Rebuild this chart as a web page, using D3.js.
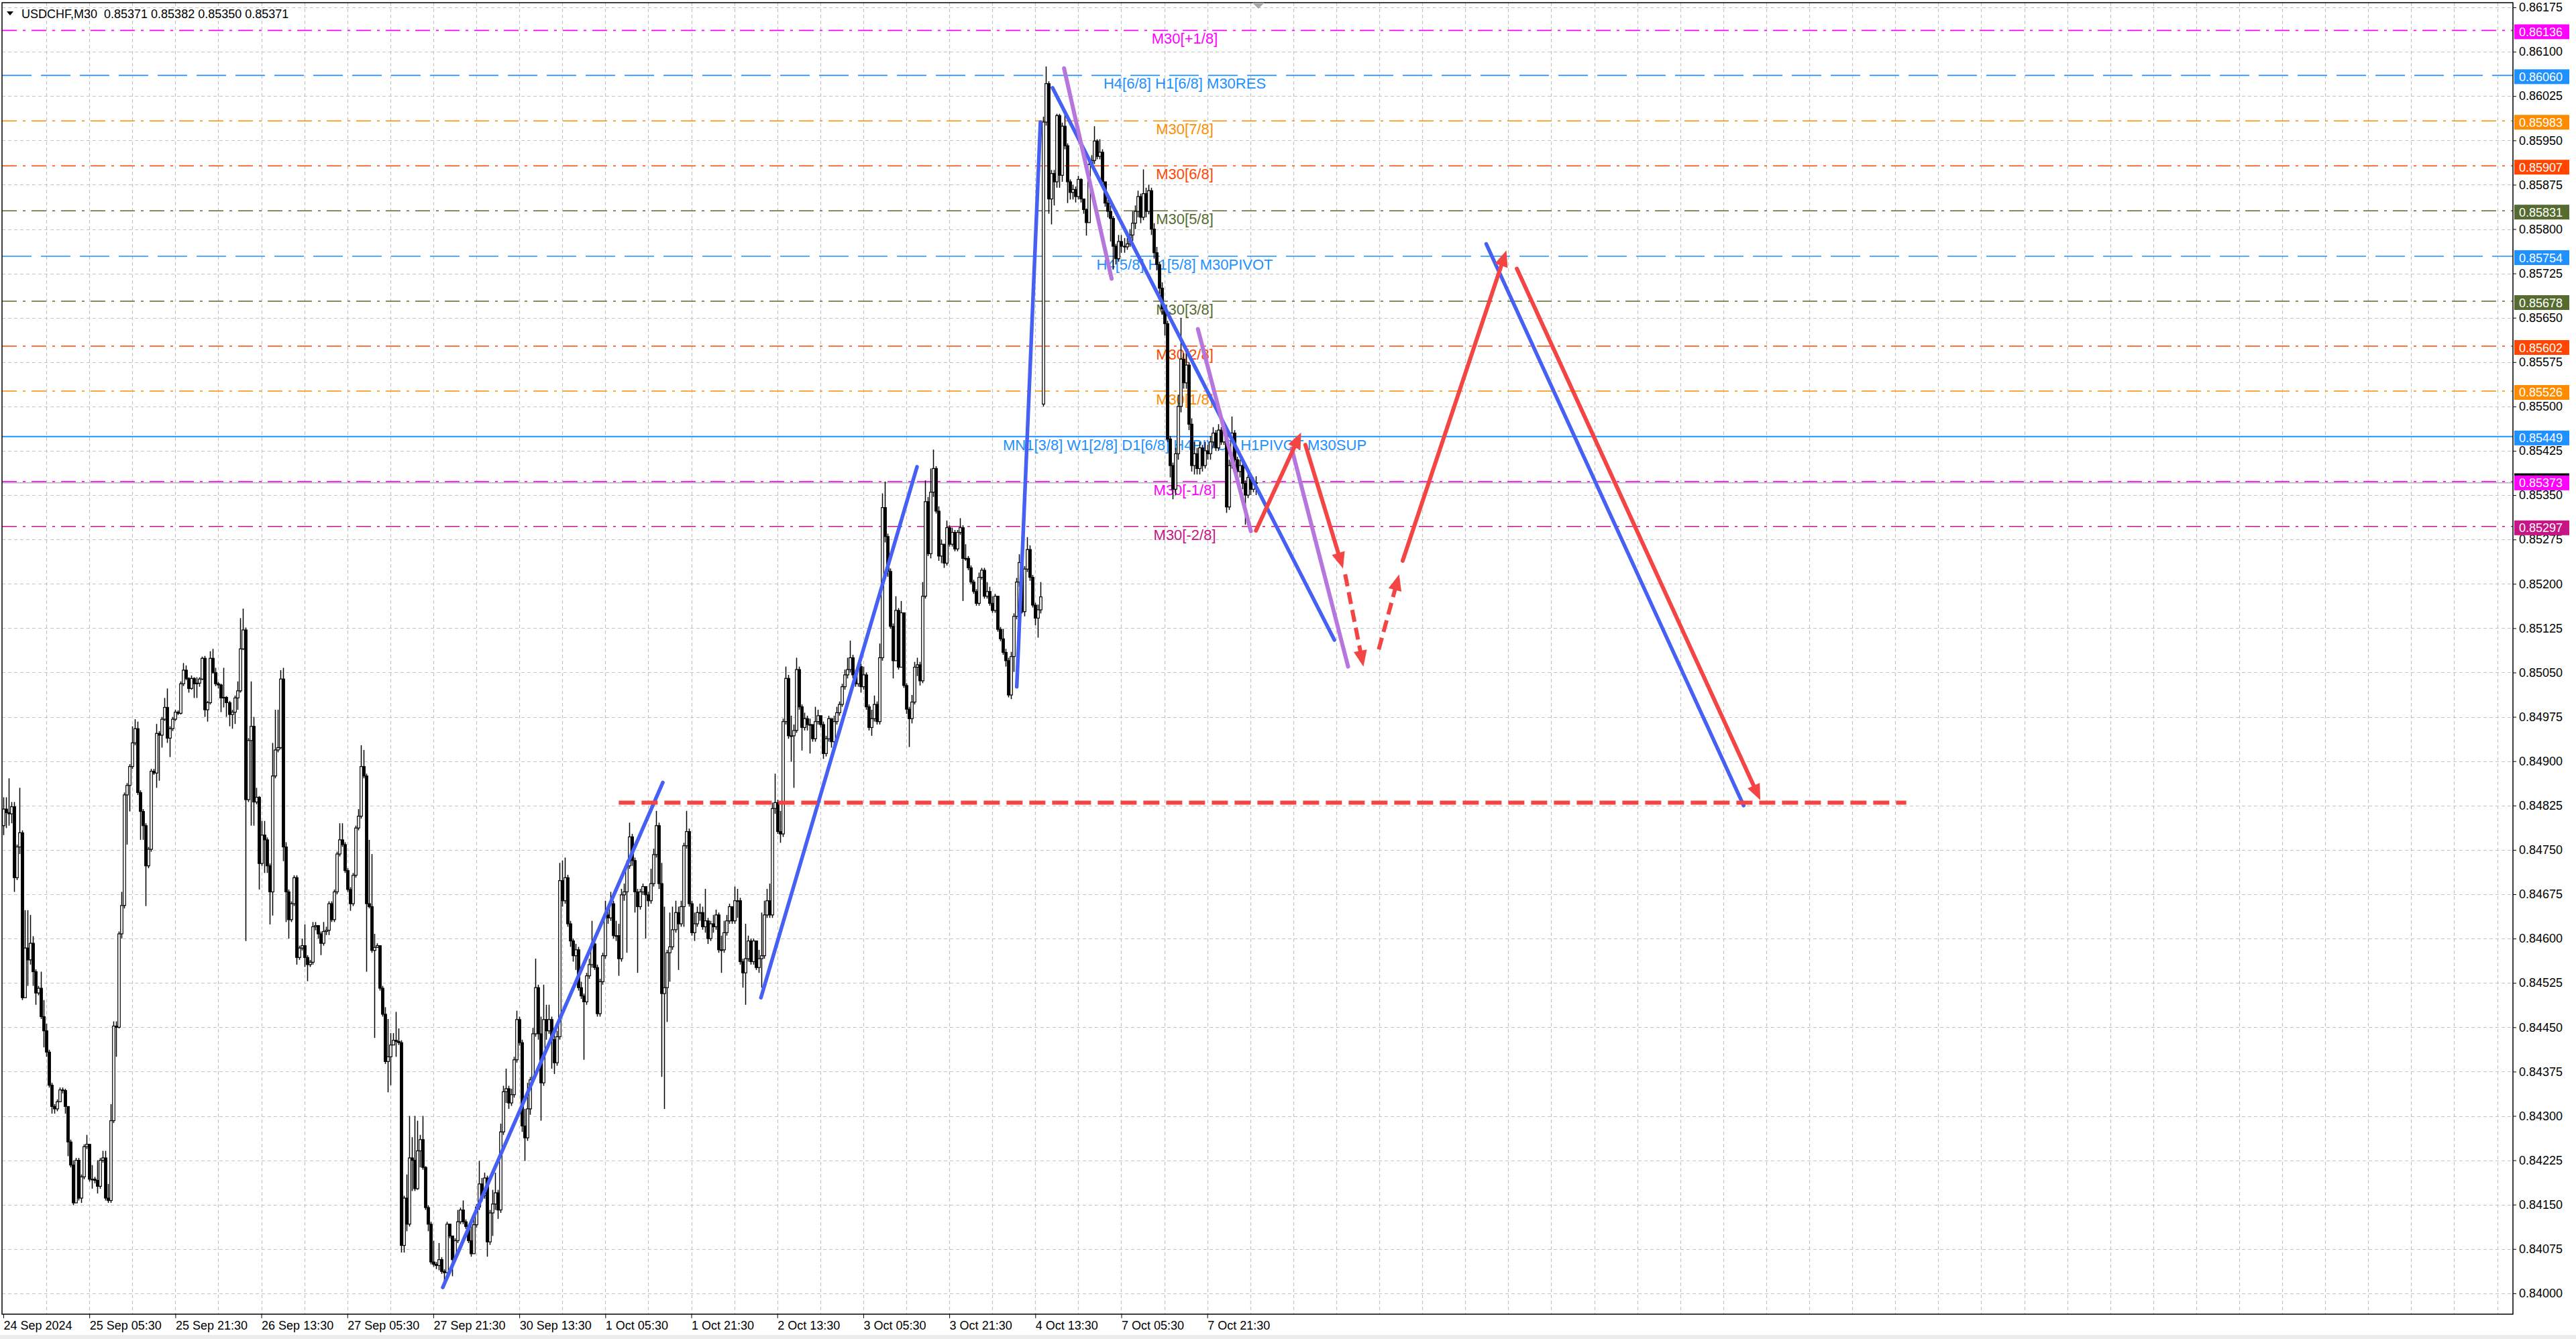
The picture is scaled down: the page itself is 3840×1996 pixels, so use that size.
<!DOCTYPE html>
<html><head><meta charset="utf-8">
<script src="https://cdn.jsdelivr.net/npm/d3@7/dist/d3.min.js"></script>
<style>
html,body{margin:0;padding:0;background:#fff;overflow:hidden;}
svg{display:block;}
text{font-family:"Liberation Sans",Arial,sans-serif;}
</style></head><body>
<svg id="c" width="3840" height="1996"></svg>
<script>
// ===== DATA (prices in 1/100000 units, M30 bars from 24 Sep 2024 13:30) =====
const symbolTitle = "USDCHF,M30";
const openPts = [
84791,84819,84813,84811,84823,84703,84755,84779,84500,84584,84564,84592,84544,84508,84516,84468,
84444,84408,84352,84316,84312,84324,84344,84343,84316,84256,84217,84153,84225,84161,84197,84248,
84252,84193,84193,84191,84181,84225,84229,84161,84157,84292,84452,84450,84608,84656,84843,84859,
84891,84931,84955,84847,84815,84791,84723,84751,84883,84880,84947,84944,84971,84991,84939,84955,
84971,84983,84981,85031,85054,85040,85023,85040,85031,85032,85039,85074,84987,84999,85074,85050,
85031,85029,85007,85008,84999,84979,84983,85007,85019,85090,85122,84835,84935,84959,84831,84839,
84727,84775,84767,84723,84679,84875,84919,84923,85039,84755,84679,84632,84659,84703,84568,84584,
84588,84568,84556,84560,84620,84622,84608,84592,84612,84614,84659,84632,84679,84743,84767,84759,
84715,84683,84659,84707,84787,84807,84891,84875,84659,84654,84580,84585,84588,84516,84472,84392,
84400,84420,84428,84426,84424,84081,84161,84117,84229,84225,84177,84241,84260,84213,84145,84117,
84053,84049,84047,84057,84037,84035,84117,84097,84057,84089,84121,84141,84121,84113,84089,84067,
84116,84146,84185,84165,84195,84087,84136,84151,84170,84141,84273,84341,84346,84322,84336,84395,
84463,84424,84283,84263,84312,84361,84439,84517,84439,84356,84463,84444,84463,84429,84390,84434,
84698,84664,84703,84625,84596,84571,84581,84517,84503,84493,84537,84556,84591,84551,84473,84527,
84571,84640,84635,84659,84605,84605,84566,84674,84679,84723,84772,84732,84679,84654,84679,84688,
84674,84664,84693,84742,84791,84693,84507,84517,84576,84586,84615,84644,84625,84654,84757,84781,
84659,84610,84625,84644,84644,84620,84630,84600,84625,84620,84640,84581,84581,84610,84630,84654,
84630,84664,84664,84561,84542,84566,84596,84561,84596,84551,84566,84571,84640,84664,84640,84820,
84830,84781,84777,84967,85040,84943,84943,84952,85055,84992,84957,84972,84962,84962,84938,84967,
84977,84962,84913,84938,84972,84933,84967,84982,84996,85026,85046,85055,85075,85046,85031,85060,
85026,85046,84992,84957,84972,84996,84967,85075,85329,85280,85221,85128,85070,85155,85059,85151,
85028,84988,84972,85000,85059,85063,85036,85179,85339,85251,85355,85395,85323,85247,85267,85235,
85295,85267,85287,85259,85287,85295,85243,85243,85227,85203,85187,85167,85211,85223,85179,85187,
85167,85155,85179,85123,85107,85084,85070,85012,85077,85145,85203,85236,85153,85225,85258,85211,
85164,85142,85156,85504,85981,86046,85851,85894,85880,85992,85891,85974,85941,85880,85862,85867,
85855,85884,85851,85833,85811,85909,85916,85949,85923,85930,85880,85844,85830,85818,85771,85750,
85779,85771,85770,85775,85790,85810,85830,85855,85820,85860,85830,85865,85800,85760,85740,85700,
85665,85640,85445,85400,85360,85420,85500,85580,85540,85570,85470,85400,85420,85395,85430,85400,
85425,85420,85440,85455,85430,85460,85440,85455,85330,85400,85455,85410,85390,85400,85370,85350,
85380,85360,85371];
const highPts = [
84839,84839,84871,84831,84831,84759,84855,84783,84648,84648,84640,84604,84548,84520,84544,84496,
84456,84412,84356,84320,84328,84348,84348,84346,84316,84260,84225,84229,84229,84201,84252,84268,
84252,84217,84197,84225,84229,84241,84241,84185,84320,84460,84460,84612,84679,84847,84863,84895,
84959,84971,84967,84851,84819,84795,84755,84887,84887,84963,84951,84975,85007,85023,84959,84975,
84987,84986,85035,85066,85062,85042,85045,85042,85042,85042,85077,85078,85002,85086,85090,85058,
85034,85031,85058,85010,85002,84987,85011,85035,85142,85158,85126,84939,85035,84975,84855,84841,
84799,84799,84771,84727,84931,84987,84987,85054,85058,84763,84683,84663,84707,84707,84588,84600,
84624,84572,84564,84628,84628,84622,84612,84628,84620,84663,84663,84683,84747,84795,84795,84763,
84719,84687,84711,84791,84819,84927,84919,84879,84767,84743,84608,84592,84588,84520,84484,84464,
84440,84440,84476,84448,84428,84165,84201,84300,84264,84300,84292,84268,84300,84215,84149,84121,
84089,84053,84085,84061,84041,84121,84117,84097,84093,84141,84145,84157,84125,84117,84116,84126,
84151,84224,84195,84204,84199,84141,84175,84204,84175,84287,84351,84380,84351,84346,84400,84478,
84468,84429,84312,84356,84366,84449,84566,84522,84468,84522,84488,84488,84468,84439,84444,84728,
84732,84737,84708,84630,84600,84591,84586,84527,84507,84542,84566,84630,84596,84556,84532,84576,
84664,84654,84679,84664,84630,84625,84684,84693,84732,84796,84777,84737,84684,84684,84693,84688,
84679,84718,84752,84816,84796,84728,84654,84581,84644,84654,84664,84654,84664,84762,84816,84786,
84664,84644,84654,84659,84654,84684,84635,84630,84640,84649,84644,84605,84630,84640,84659,84654,
84688,84684,84669,84566,84625,84605,84600,84600,84596,84581,84644,84664,84684,84693,84830,84879,
84835,84816,84972,85060,85046,84977,84962,85075,85060,84996,84982,84977,84972,84962,84992,84987,
84977,84967,84943,84977,84972,84977,84992,85001,85031,85055,85075,85104,85080,85055,85065,85065,
85060,85050,84996,84987,85011,85001,85099,85353,85373,85285,85226,85133,85179,85159,85171,85139,
85032,84992,85012,85068,85075,85068,85203,85375,85347,85395,85427,85399,85331,85275,85267,85307,
85299,85295,85291,85291,85311,85299,85267,85247,85231,85207,85191,85219,85227,85227,85203,85195,
85179,85183,85179,85127,85124,85090,85075,85085,85150,85210,85250,85245,85230,85279,85265,85215,
85168,85165,85203,85990,86075,86050,85900,85900,85995,85995,85980,85995,85945,85884,85875,85872,
85890,85886,85850,85835,85915,85925,85974,85952,85952,85935,85880,85850,85840,85822,85775,85790,
85790,85785,85785,85800,85830,85840,85865,85860,85901,85870,85875,85870,85810,85770,85745,85710,
85670,85645,85450,85405,85430,85520,85650,85590,85590,85575,85480,85440,85430,85440,85435,85440,
85435,85450,85465,85460,85470,85465,85470,85460,85410,85483,85460,85415,85410,85405,85375,85390,
85385,85380,85382];
const lowPts = [
84775,84787,84791,84795,84679,84699,84743,84496,84500,84520,84556,84520,84488,84504,84464,84416,
84400,84348,84304,84304,84308,84340,84338,84304,84232,84213,84149,84153,84157,84153,84193,84244,
84189,84177,84186,84169,84177,84221,84157,84153,84153,84288,84400,84448,84600,84651,84759,84815,
84887,84927,84843,84767,84767,84655,84719,84747,84877,84855,84867,84923,84968,84931,84907,84951,
84968,84978,84979,85027,85037,85016,85021,85007,85007,85026,85037,84975,84967,84996,85048,85027,
85023,84983,84991,84975,84959,84955,84963,84987,85016,85088,84596,84831,84791,84791,84827,84683,
84723,84711,84711,84624,84639,84871,84915,84920,84731,84628,84600,84628,84655,84556,84564,84580,
84552,84528,84552,84556,84614,84600,84572,84588,84606,84606,84628,84628,84675,84739,84755,84711,
84679,84647,84655,84703,84783,84803,84871,84544,84651,84576,84432,84584,84512,84468,84388,84340,
84352,84424,84400,84420,84069,84069,84105,84113,84173,84173,84175,84213,84209,84141,84105,84049,
84045,84041,84039,84033,84017,84033,84093,84029,84053,84085,84117,84117,84109,84085,84062,84067,
84111,84141,84155,84160,84062,84082,84097,84141,84126,84136,84268,84322,84312,84317,84331,84390,
84419,84273,84224,84258,84302,84356,84434,84429,84292,84351,84429,84439,84380,84371,84385,84429,
84654,84659,84620,84586,84561,84547,84512,84498,84395,84488,84532,84551,84547,84468,84468,84522,
84566,84625,84630,84600,84596,84537,84561,84664,84576,84718,84723,84644,84542,84649,84674,84600,
84654,84659,84688,84737,84684,84366,84312,84459,84527,84581,84610,84547,84620,84620,84752,84654,
84605,84596,84620,84630,84615,84610,84591,84596,84610,84615,84576,84542,84576,84605,84625,84625,
84625,84635,84556,84517,84488,84561,84556,84556,84547,84542,84517,84566,84635,84635,84635,84811,
84777,84762,84772,84962,84938,84899,84855,84948,84987,84918,84952,84952,84913,84933,84933,84962,
84957,84904,84908,84933,84923,84928,84962,84977,84992,85021,85040,85050,85040,85026,85026,85016,
85021,84987,84952,84943,84967,84962,84962,85070,85270,85212,85124,85040,85071,85055,85059,85024,
84980,84924,84964,84996,85044,85028,85032,85175,85247,85243,85347,85319,85239,85235,85227,85231,
85263,85263,85255,85255,85283,85171,85239,85223,85199,85183,85163,85163,85207,85175,85175,85163,
85151,85151,85119,85103,85080,85060,85008,85005,85051,85140,85195,85150,85145,85220,85205,85160,
85130,85109,85150,85500,85975,85826,85808,85840,85870,85870,85880,85935,85844,85850,85850,85845,
85850,85845,85826,85789,85830,85905,85910,85918,85918,85875,85838,85820,85779,85732,85740,85745,
85760,85760,85765,85770,85780,85800,85820,85810,85815,85820,85825,85790,85750,85730,85690,85655,
85620,85440,85380,85343,85350,85410,85490,85530,85530,85460,85390,85385,85385,85385,85390,85395,
85410,85410,85430,85425,85425,85435,85435,85320,85325,85395,85400,85380,85380,85360,85300,85345,
85350,85355,85350];
const closePts = [
84819,84813,84811,84823,84703,84755,84779,84500,84584,84564,84592,84544,84508,84516,84468,84444,
84408,84352,84316,84312,84324,84344,84343,84316,84256,84217,84153,84225,84161,84197,84248,84252,
84193,84193,84191,84181,84225,84229,84161,84157,84292,84452,84450,84608,84656,84843,84859,84891,
84931,84955,84847,84815,84791,84723,84751,84883,84880,84947,84944,84971,84991,84939,84955,84971,
84983,84981,85031,85054,85040,85023,85040,85031,85032,85039,85074,84987,84999,85074,85050,85031,
85029,85007,85008,84999,84979,84983,85007,85019,85090,85122,84835,84935,84959,84831,84839,84727,
84775,84767,84723,84679,84875,84919,84923,85039,84755,84679,84632,84659,84703,84568,84584,84588,
84568,84556,84560,84620,84622,84608,84592,84612,84614,84659,84632,84679,84743,84767,84759,84715,
84683,84659,84707,84787,84807,84891,84875,84659,84654,84580,84585,84588,84516,84472,84392,84400,
84420,84428,84426,84424,84081,84161,84117,84229,84225,84177,84241,84260,84213,84145,84117,84053,
84049,84047,84057,84037,84035,84117,84097,84057,84089,84121,84141,84121,84113,84089,84067,84116,
84146,84185,84165,84195,84087,84136,84151,84170,84141,84273,84341,84346,84322,84336,84395,84463,
84424,84283,84263,84312,84361,84439,84517,84439,84356,84463,84444,84463,84429,84390,84434,84698,
84664,84703,84625,84596,84571,84581,84517,84503,84493,84537,84556,84591,84551,84473,84527,84571,
84640,84635,84659,84605,84605,84566,84674,84679,84723,84772,84732,84679,84654,84679,84688,84674,
84664,84693,84742,84791,84693,84507,84517,84576,84586,84615,84644,84625,84654,84757,84781,84659,
84610,84625,84644,84644,84620,84630,84600,84625,84620,84640,84581,84581,84610,84630,84654,84630,
84664,84664,84561,84542,84566,84596,84561,84596,84551,84566,84571,84640,84664,84640,84820,84830,
84781,84777,84967,85040,84943,84943,84952,85055,84992,84957,84972,84962,84962,84938,84967,84977,
84962,84913,84938,84972,84933,84967,84982,84996,85026,85046,85055,85075,85046,85031,85060,85026,
85046,84992,84957,84972,84996,84967,85075,85329,85280,85221,85128,85070,85155,85059,85151,85028,
84988,84972,85000,85059,85063,85036,85179,85339,85251,85355,85395,85323,85247,85267,85235,85295,
85267,85287,85259,85287,85295,85243,85243,85227,85203,85187,85167,85211,85223,85179,85187,85167,
85155,85179,85123,85107,85084,85070,85012,85077,85145,85203,85236,85153,85225,85258,85211,85164,
85142,85156,85178,85981,86046,85851,85894,85880,85992,85891,85974,85941,85880,85862,85867,85855,
85884,85851,85833,85811,85909,85916,85949,85923,85930,85880,85844,85830,85818,85771,85750,85779,
85771,85770,85775,85790,85810,85830,85855,85820,85860,85830,85865,85800,85760,85740,85700,85665,
85640,85445,85400,85360,85420,85500,85580,85540,85570,85470,85400,85420,85395,85430,85400,85425,
85420,85440,85455,85430,85460,85440,85455,85330,85400,85455,85410,85390,85400,85370,85350,85380,
85360,85371,85371];

// Murrey-math levels
const levelPrices = [0.86136,0.86060,0.85983,0.85907,0.85831,0.85754,0.85678,0.85602,0.85526,0.85449,0.85373,0.85297];
const levelNames = ["M30[+1/8]","H4[6/8] H1[6/8] M30RES","M30[7/8]","M30[6/8]","M30[5/8]","H4[5/8] H1[5/8] M30PIVOT",
  "M30[3/8]","M30[2/8]","M30[1/8]","MN1[3/8] W1[2/8] D1[6/8] H4PIVOT H1PIVOT M30SUP","M30[-1/8]","M30[-2/8]"];
const bidPrice = 0.85371;

// drawn objects: [barIndex, price] pairs
const blueLines = [
  [[163.5,0.84010],[245.4,0.84864]],
  [[281.9,0.84500],[340.0,0.85398]],
  [[377.1,0.85026],[385.9,0.85981]],
  [[390.4,0.86039],[495.3,0.85105]],
  [[551.8,0.85775],[647.6,0.84825]]];
const purpleLines = [
  [[394.7,0.86072],[412.4,0.85716]],
  [[444.5,0.85631],[464.2,0.85289]],
  [[479.4,0.85429],[500.4,0.85060]]];
const redArrows = [
  [[466.1,0.85290],[482.9,0.85456]],
  [[484.5,0.85435],[498.5,0.85226]],
  [[520.7,0.85239],[559.3,0.85764]],
  [[563.2,0.85733],[653.8,0.84834]]];
const redDashedArrows = [
  [[499.3,0.85216],[506.1,0.85060]],
  [[511.8,0.85089],[519.4,0.85216]]];
const targetLine = [[229,0.84830],[708.1,0.84830]];

// axis tick labels
const priceTicks = [0.84000,0.84075,0.84150,0.84225,0.84300,0.84375,0.84450,0.84525,0.84600,0.84675,0.84750,0.84825,
  0.84900,0.84975,0.85050,0.85125,0.85200,0.85275,0.85350,0.85425,0.85500,0.85575,0.85650,0.85725,0.85800,0.85875,
  0.85950,0.86025,0.86100,0.86175];
const timeTickBars = [0,32,64,96,128,160,192,224,256,288,320,352,384,416,448];
const timeLabels = ["24 Sep 2024","25 Sep 05:30","25 Sep 21:30","26 Sep 13:30","27 Sep 05:30","27 Sep 21:30",
  "30 Sep 13:30","1 Oct 05:30","1 Oct 21:30","2 Oct 13:30","3 Oct 05:30","3 Oct 21:30","4 Oct 13:30","7 Oct 05:30","7 Oct 21:30"];

// ===== STYLE =====
const levelColors = ["#FF00FF","#1E90FF","#FF8C00","#FF4500","#556B2F","#1E90FF","#556B2F","#FF4500","#FF8C00","#1E90FF","#FF00FF","#C71585"];
const levelDash = ["22,9,4,9","44,14","22,9,4,9","22,9,4,9","22,9,4,9","44,14","22,9,4,9","22,9,4,9","22,9,4,9",null,"22,9,4,9","22,9,4,9"];
const BLUE="#4560F2", PURPLE="#B676DE", RED="#F44545";

// ===== LAYOUT =====
const W=3840,H=1996;
const FL=3, FR=3746, FT=4, FB=1959;
const LABEL_BAR = 439.6;
const x = d3.scaleLinear().domain([0,934]).range([5, 5+934*4.006]);
const y = d3.scaleLinear().domain([0.84000,0.86175]).range([1927.9, 11]);

const bars = closePts.map((c,i)=>({i, o:openPts[i]/1e5, h:highPts[i]/1e5, l:lowPts[i]/1e5, c:c/1e5}));

const svg = d3.select('#c');
svg.append('rect').attr('width',W).attr('height',H).attr('fill','#fff');
svg.append('rect').attr('x',0).attr('y',1990).attr('width',W).attr('height',6).attr('fill','#ececec');

const defs = svg.append('defs');
defs.append('clipPath').attr('id','plot').append('rect')
  .attr('x',FL).attr('y',FT).attr('width',FR-FL).attr('height',FB-FT);
const g = svg.append('g').attr('clip-path','url(#plot)');

// grid
const grid = g.append('g').attr('stroke','#c4c4c4').attr('stroke-width',1.2).attr('stroke-dasharray','5,4');
grid.selectAll('line.h').data(priceTicks).join('line').attr('class','h')
  .attr('x1',FL).attr('x2',FR).attr('y1',d=>Math.round(y(d))+0.5).attr('y2',d=>Math.round(y(d))+0.5);
grid.selectAll('line.v').data(d3.range(16,934,16)).join('line').attr('class','v')
  .attr('x1',d=>Math.round(x(d))+0.5).attr('x2',d=>Math.round(x(d))+0.5).attr('y1',FT).attr('y2',FB);

// level lines
g.append('g').selectAll('line').data(levelPrices).join('line')
  .attr('x1',FL).attr('x2',FR).attr('y1',d=>y(d)).attr('y2',d=>y(d))
  .attr('stroke',(d,i)=>levelColors[i]).attr('stroke-width',(d,i)=>levelDash[i]?1.6:2)
  .attr('stroke-dasharray',(d,i)=>levelDash[i]);
// bid line
g.append('line').attr('x1',FL).attr('x2',FR).attr('y1',y(bidPrice)).attr('y2',y(bidPrice))
  .attr('stroke','#b8b8b8').attr('stroke-width',1.6);

// level labels
g.append('g').selectAll('text').data(levelPrices).join('text')
  .attr('x',x(LABEL_BAR)).attr('y',d=>y(d)+20).attr('text-anchor','middle')
  .attr('font-size',22).attr('fill',(d,i)=>levelColors[i]).text((d,i)=>levelNames[i]);

// candles
const cg = g.append('g');
const bw = 3.6;
cg.selectAll('line.w').data(bars).join('line').attr('class','w')
  .attr('x1',d=>Math.round(x(d.i))+0.5).attr('x2',d=>Math.round(x(d.i))+0.5)
  .attr('y1',d=>y(Math.max(d.h,d.o,d.c))).attr('y2',d=>y(Math.min(d.l,d.o,d.c)))
  .attr('stroke','#000').attr('stroke-width',1.5);
cg.selectAll('rect').data(bars).join('rect')
  .attr('x',d=>Math.round(x(d.i))+0.5-bw/2).attr('width',bw)
  .attr('y',d=>y(Math.max(d.o,d.c))).attr('height',d=>Math.max(1,y(Math.min(d.o,d.c))-y(Math.max(d.o,d.c))))
  .attr('fill',d=>d.c>=d.o?'#fff':'#000').attr('stroke','#000').attr('stroke-width',1.2);

// trend lines
const lg = g.append('g').attr('fill','none').attr('stroke-linecap','round');
lg.selectAll('line.b').data(blueLines).join('line').attr('class','b')
  .attr('x1',d=>x(d[0][0])).attr('y1',d=>y(d[0][1])).attr('x2',d=>x(d[1][0])).attr('y2',d=>y(d[1][1]))
  .attr('stroke',BLUE).attr('stroke-width',5.5);
lg.selectAll('line.p').data(purpleLines).join('line').attr('class','p')
  .attr('x1',d=>x(d[0][0])).attr('y1',d=>y(d[0][1])).attr('x2',d=>x(d[1][0])).attr('y2',d=>y(d[1][1]))
  .attr('stroke',PURPLE).attr('stroke-width',6);
// target dashed line
g.append('line').attr('x1',x(targetLine[0][0])).attr('y1',y(targetLine[0][1]))
  .attr('x2',x(targetLine[1][0])).attr('y2',y(targetLine[1][1]))
  .attr('stroke',RED).attr('stroke-width',6).attr('stroke-dasharray','24,10');

function arrow(seg, dashed){
  const x0=x(seg[0][0]), y0=y(seg[0][1]), x1=x(seg[1][0]), y1=y(seg[1][1]);
  const dx=x1-x0, dy=y1-y0, len=Math.hypot(dx,dy), ux=dx/len, uy=dy/len;
  const hl=24, hw=10;
  const bx=x1-ux*hl, by=y1-uy*hl;
  g.append('line').attr('x1',x0).attr('y1',y0).attr('x2',bx+ux*3).attr('y2',by+uy*3)
    .attr('stroke',RED).attr('stroke-width',6)
    .attr('stroke-linecap',dashed?'butt':'round')
    .attr('stroke-dasharray',dashed?'18,9':null);
  g.append('path').attr('d',`M${x1},${y1}L${bx-uy*hw},${by+ux*hw}L${bx+uy*hw},${by-ux*hw}Z`)
    .attr('fill',RED);
}
redArrows.forEach(s=>arrow(s,false));
redDashedArrows.forEach(s=>arrow(s,true));

// ===== AXES =====
const yAxis = d3.axisRight(y).tickValues(priceTicks).tickSize(5).tickPadding(4).tickFormat(d=>d.toFixed(5));
const ya = svg.append('g').attr('transform',`translate(${FR},0)`).call(yAxis);
ya.select('.domain').remove();
ya.selectAll('text').attr('font-size',18).attr('fill','#000').attr('font-family','"Liberation Sans",Arial,sans-serif');
ya.selectAll('line').attr('stroke','#000');

const xAxis = d3.axisBottom(x).tickValues(timeTickBars).tickSize(6).tickPadding(4).tickFormat((d,i)=>timeLabels[i]);
const xa = svg.append('g').attr('transform',`translate(0,${FB})`).call(xAxis);
xa.select('.domain').remove();
xa.selectAll('text').attr('font-size',18).attr('fill','#000').attr('text-anchor','start')
  .attr('font-family','"Liberation Sans",Arial,sans-serif');
xa.selectAll('line').attr('stroke','#000');

// price tags
const tg = svg.append('g');
tg.append('rect').attr('x',FR+2).attr('y',y(bidPrice)-14).attr('width',82).attr('height',22).attr('fill','#000');
const tags = tg.selectAll('g.tag').data(levelPrices).join('g').attr('class','tag');
tags.append('rect').attr('x',FR+2).attr('y',d=>y(d)-11+2).attr('width',82).attr('height',22)
  .attr('fill',(d,i)=>levelColors[i]);
tags.append('text').attr('x',FR+9).attr('y',d=>y(d)+2+6.5).attr('font-size',18).attr('fill','#fff')
  .text(d=>d.toFixed(5));

// frame
svg.append('rect').attr('x',FL).attr('y',FT).attr('width',FR-FL).attr('height',FB-FT)
  .attr('fill','none').attr('stroke','#000').attr('stroke-width',1.5);

// shift marker
const lastX = x(bars.length-1)+4;
svg.append('path').attr('d',`M${lastX-9},${FT}L${lastX+9},${FT}L${lastX},${FT+9}Z`).attr('fill','#a8a8a8');

// title
const lb = bars[bars.length-1];
svg.append('path').attr('d','M10,17L20,17L15,23Z').attr('fill','#000');
svg.append('text').attr('x',32).attr('y',27).attr('font-size',18).attr('fill','#000')
  .style('white-space','pre')
  .text(`${symbolTitle}  ${lb.o.toFixed(5)} ${lb.h.toFixed(5)} ${lb.l.toFixed(5)} ${lb.c.toFixed(5)}`);
</script>
</body></html>
